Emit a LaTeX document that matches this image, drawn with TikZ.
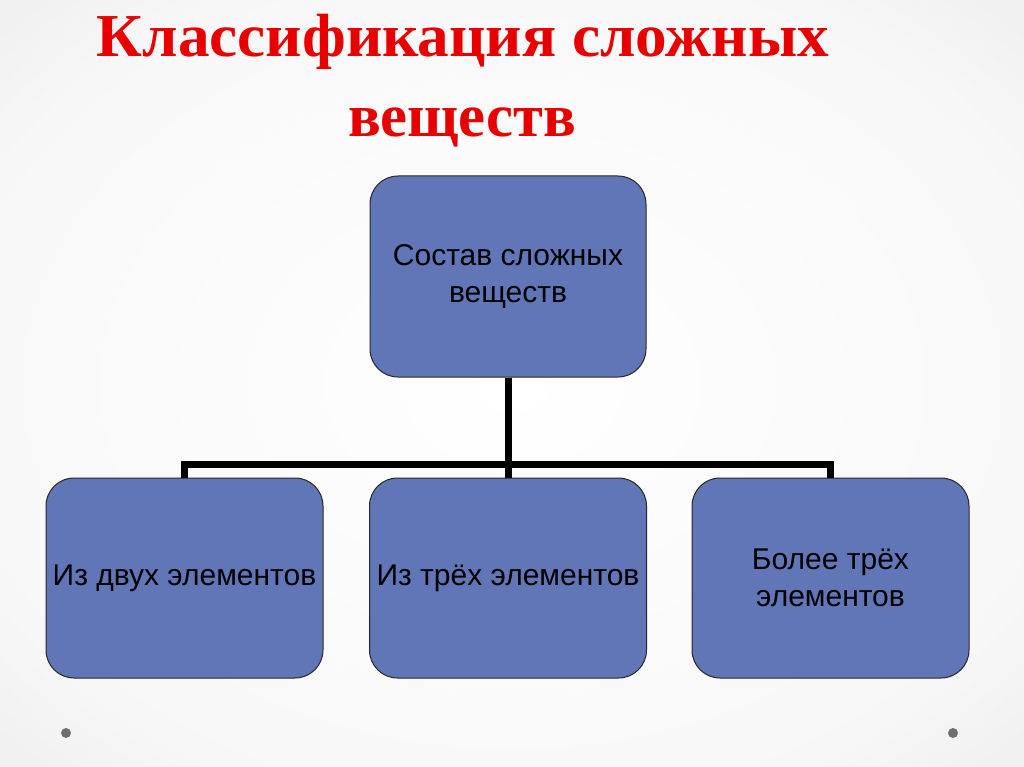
\documentclass[tikz,border=0pt]{standalone}
\usepackage{fontspec}
\usepackage{graphicx}
\setmainfont{Liberation Serif}
\setsansfont{Liberation Sans}
\definecolor{boxblue}{RGB}{96,118,182}
\definecolor{titlered}{RGB}{232,0,0}
\definecolor{dotgray}{RGB}{110,110,110}
\pgfdeclareradialshading{bgshade}{\pgfpoint{0bp}{0bp}}{%
  color(0bp)=(white); color(28bp)=(white!97!black); color(50bp)=(white!88!black); color(71bp)=(white!78!black)}
\begin{document}
\begin{tikzpicture}[x=1pt,y=-1pt,
  box/.style={draw=black!85, line width=1pt, fill=boxblue, rounded corners=28pt,
    minimum width=277pt, minimum height=200pt, inner sep=0pt, align=center,
    font=\sffamily\fontsize{30}{37}\selectfont, text=black},
  link/.style={line width=7pt, draw=black, line join=miter},
  titletext/.style={anchor=base, font=\bfseries\fontsize{61}{80}\selectfont},
  dot/.style={fill=dotgray, draw=none}]
\useasboundingbox (0,0) rectangle (1024,767);
\shade[shading=bgshade] (0,0) rectangle (1024,767);
% title
\node[titletext, text=titlered] (t1) at (463,57) {\resizebox{732pt}{\height}{Классификация сложных}};
\node[titletext, text=titlered] (t2) at (462,137) {\resizebox{228pt}{\height}{веществ}};
% boxes
\node[box, minimum width=276pt, minimum height=201pt] (top) at (508,276.5) {Состав сложных\\веществ};
\node[box] (l) at (184.5,578) {Из двух элементов};
\node[box] (m) at (508,578) {Из трёх элементов};
\node[box] (r) at (830.5,578) {Более трёх\\элементов};
\coordinate (bar) at (508,464);
% connectors
\draw[link] (top.south) -- (m.north);
\draw[link] (l.north) -- (l.north |- bar) -- (r.north |- bar) -- (r.north);
% dots
\fill[dot] (66,733) circle (5);
\fill[dot] (953,733) circle (5);
\end{tikzpicture}
\end{document}
